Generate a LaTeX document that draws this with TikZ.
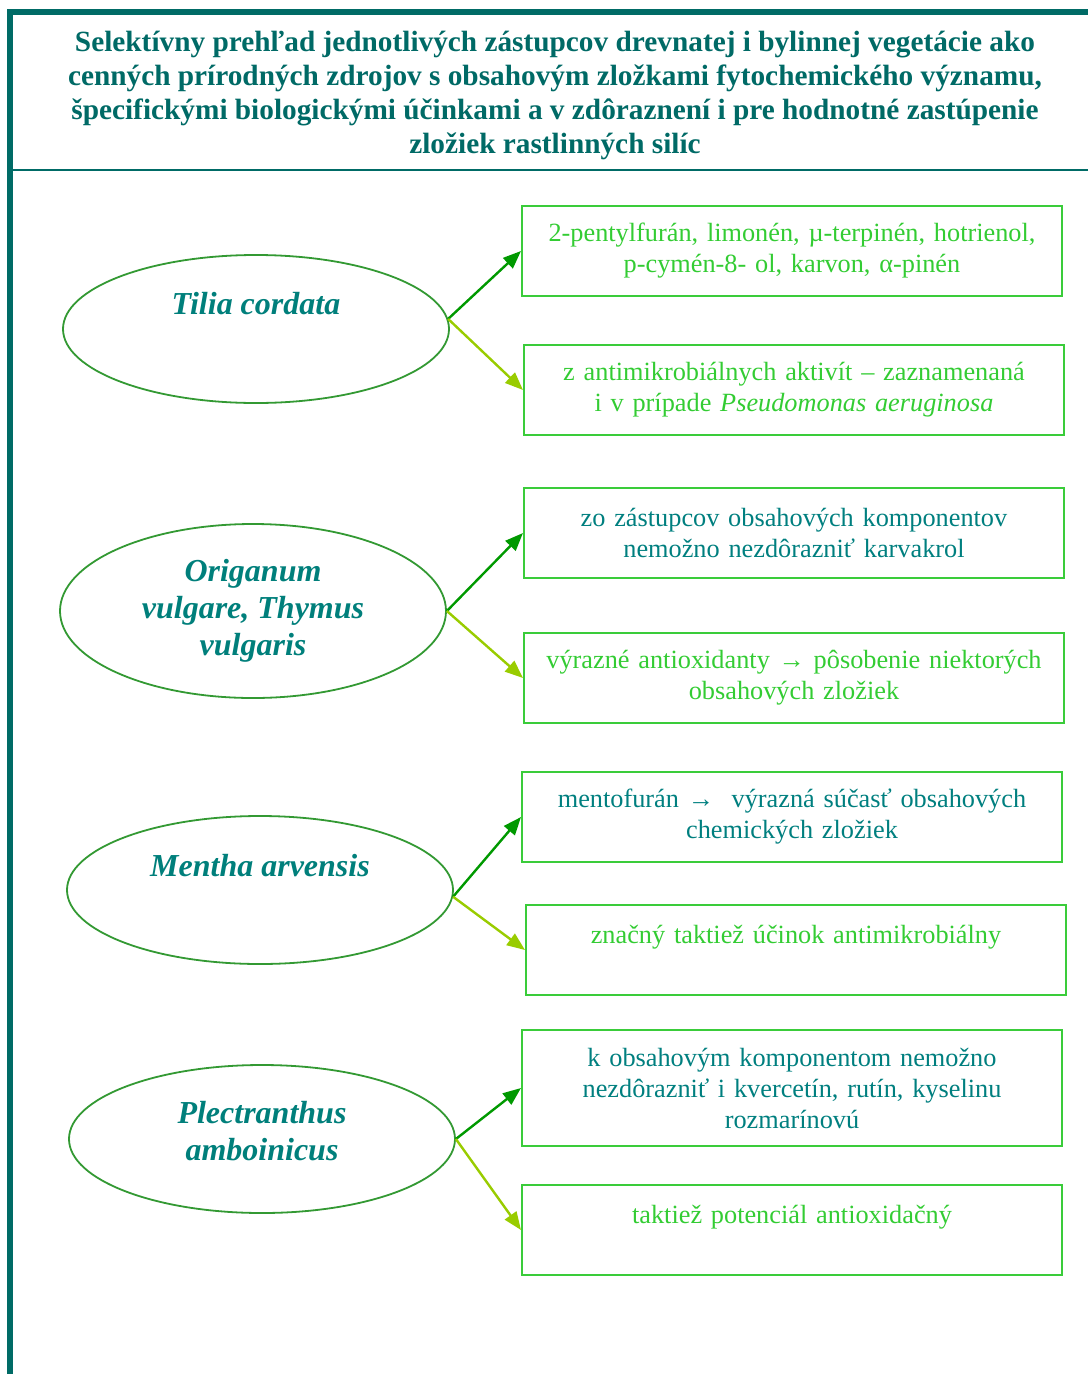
\documentclass[tikz,border=0pt]{standalone}
\usepackage{fontspec}
\setmainfont{Liberation Serif}
\usetikzlibrary{arrows.meta, shapes.geometric}
\definecolor{frameteal}{HTML}{006B66}
\definecolor{titleteal}{HTML}{006A66}
\definecolor{plantteal}{HTML}{007F7B}
\definecolor{plantline}{HTML}{339933}
\definecolor{boxgreen}{HTML}{3ACC3A}
\definecolor{textgreen}{HTML}{33CC33}
\definecolor{textteal}{HTML}{007F7F}
\definecolor{arrowdark}{HTML}{009900}
\definecolor{arrowlight}{HTML}{99CC00}

\begin{document}
\begin{tikzpicture}[
    x=1pt, y=-1pt,
    plant/.style={ellipse, draw=plantline, line width=1.8pt, minimum width=386pt, minimum height=148pt, inner sep=0pt},
    plantname/.style={text=plantteal, font=\fontsize{32}{37}\selectfont\bfseries\itshape, align=center},
    finding/.style={rectangle, draw=boxgreen, line width=2pt, minimum width=540pt, minimum height=90pt, text width=530pt, align=center, inner sep=0pt, font=\fontsize{26.3}{31}\selectfont},
    every edge/.append style={line width=2.4pt, -{Triangle[length=18pt, width=14pt]}},
    darkarrow/.style={draw=arrowdark, fill=arrowdark},
    lightarrow/.style={draw=arrowlight, fill=arrowlight}
]
   \useasboundingbox (0,0) rectangle (1088,1374);

   % Frame and title
   \draw[frameteal, line width=5.5pt] (10,1374) -- (10,12) -- (1088,12);
   \draw[frameteal, line width=2pt] (13,170) -- (1088,170);
   \node[text=titleteal, font=\fontsize{29.3}{34}\selectfont\bfseries, align=center] (title) at (555,95)
      {Selektívny prehľad jednotlivých zástupcov drevnatej i bylinnej vegetácie ako\\
       cenných prírodných zdrojov s obsahovým zložkami fytochemického významu,\\
       špecifickými biologickými účinkami a v zdôraznení i pre hodnotné zastúpenie\\
       zložiek rastlinných silíc};

   % Plants
   \node[plant] (tilia) at (256,329) {};
   \node[plantname] (tilianame) at ([yshift=25pt]tilia.center) {Tilia cordata};
   \node[plant, minimum height=174pt] (origanum) at (253,611) {};
   \node[plantname] (origanumname) at (origanum.center) {Origanum\\vulgare, Thymus\\vulgaris};
   \node[plant] (mentha) at (260,890) {};
   \node[plantname] (menthaname) at ([yshift=24pt]mentha.center) {Mentha arvensis};
   \node[plant] (plectranthus) at (262,1139) {};
   \node[plantname] (plectranthusname) at ([yshift=8pt]plectranthus.center) {Plectranthus\\amboinicus};

   % Findings
   \node[finding, text=textgreen] (b1) at (792,251)
      {2-pentylfurán, limonén, µ-terpinén, hotrienol,\\p-cymén-8- ol, karvon, α-pinén};
   \node[finding, text=textgreen] (b2) at (794,390)
      {z antimikrobiálnych aktivít – zaznamenaná\\i v prípade \textit{Pseudomonas aeruginosa}};
   \node[finding, text=textteal] (b3) at (794,533)
      {zo zástupcov obsahových komponentov\\nemožno nezdôrazniť karvakrol};
   \node[finding, text=textgreen] (b4) at (794,678)
      {výrazné antioxidanty → pôsobenie niektorých\\obsahových zložiek};
   \node[finding, text=textteal] (b5) at (792,817)
      {mentofurán →\ \ výrazná súčasť obsahových\\chemických zložiek};
   \node[finding, text=textgreen] (b6) at (796,950)
      {značný taktiež účinok antimikrobiálny\\\mbox{}};
   \node[finding, text=textteal, minimum height=116pt] (b7) at (792,1088)
      {k obsahovým komponentom nemožno\\nezdôrazniť i kvercetín, rutín, kyselinu\\rozmarínovú};
   \node[finding, text=textgreen] (b8) at (792,1230)
      {taktiež potenciál antioxidačný\\\mbox{}};

   % Arrows
   \path (tilia.3) edge[darkarrow] (b1.west)
                   edge[lightarrow] (b2.west)
         (origanum.east) edge[darkarrow] (b3.west)
                         edge[lightarrow] (b4.west)
         (mentha.-2) edge[darkarrow] (b5.west)
                     edge[lightarrow] (b6.west)
         (plectranthus.east) edge[darkarrow] (b7.west)
                             edge[lightarrow] (b8.west);
\end{tikzpicture}
\end{document}
